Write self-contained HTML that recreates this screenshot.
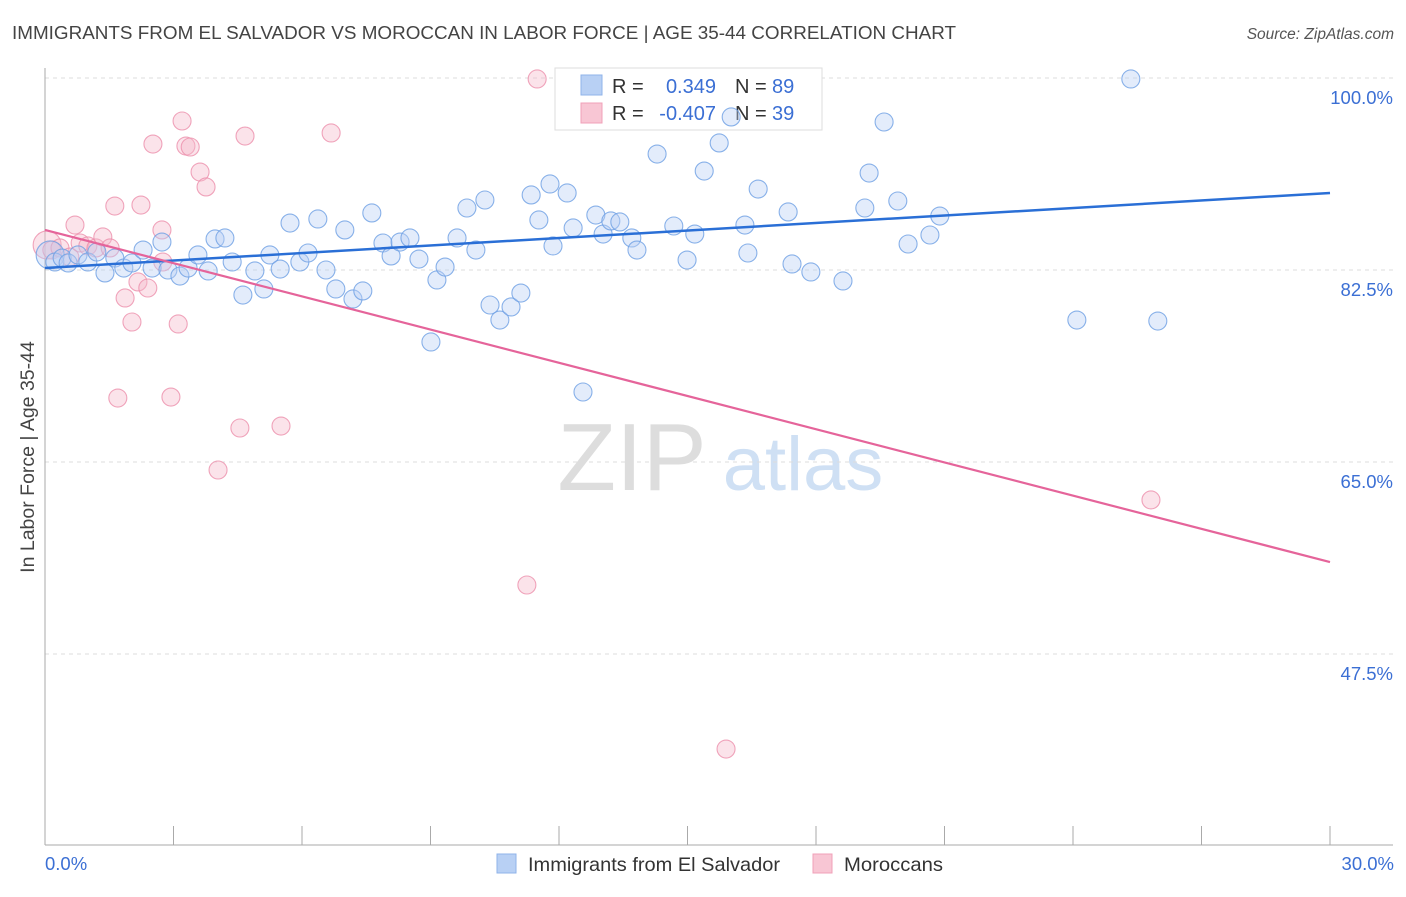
<!DOCTYPE html>
<html><head><meta charset="utf-8"><style>
body{margin:0;background:#fff;font-family:"Liberation Sans",sans-serif;}
svg text{font-family:"Liberation Sans",sans-serif;}
</style></head><body>
<svg id="chart" width="1406" height="892" viewBox="0 0 1406 892" xmlns="http://www.w3.org/2000/svg">
<text x="12" y="39" font-size="18.6" fill="#444" textLength="944" lengthAdjust="spacingAndGlyphs">IMMIGRANTS FROM EL SALVADOR VS MOROCCAN IN LABOR FORCE | AGE 35-44 CORRELATION CHART</text>
<text x="1394" y="39" font-size="15.5" fill="#555" text-anchor="end" font-style="italic">Source: ZipAtlas.com</text>
<g>
<text x="632" y="490" font-size="96" fill="#ddd" text-anchor="middle" font-family="Liberation Serif,serif">ZIP</text>
<text x="803" y="490" font-size="76" fill="#cfe0f4" text-anchor="middle">atlas</text>
</g>
<g id="grid"></g>
<g id="axes"></g>
<g>
<rect x="555" y="68" width="267" height="62" fill="#fff" stroke="#ddd"/>
<rect x="581" y="75" width="21" height="20" fill="#b8d0f4" stroke="#8fb3ea"/>
<rect x="581" y="103" width="21" height="20" fill="#f8c6d4" stroke="#f0a0b8"/>
<text x="612" y="93" font-size="20" fill="#333">R = </text><text x="716" y="93" font-size="20" fill="#3b6fd4" text-anchor="end">0.349</text>
<text x="735" y="93" font-size="20" fill="#333">N = </text><text x="772" y="93" font-size="20" fill="#3b6fd4">89</text>
<text x="612" y="120" font-size="20" fill="#333">R = </text><text x="716" y="120" font-size="20" fill="#3b6fd4" text-anchor="end">-0.407</text>
<text x="735" y="120" font-size="20" fill="#333">N = </text><text x="772" y="120" font-size="20" fill="#3b6fd4">39</text>
</g>
<g id="marks"></g>
<text transform="translate(34,457) rotate(-90)" font-size="19.5" fill="#444" text-anchor="middle">In Labor Force | Age 35-44</text>
<text x="45" y="870" font-size="18.5" fill="#3b6fd4">0.0%</text>
<text x="1394" y="870" font-size="18.5" fill="#3b6fd4" text-anchor="end">30.0%</text>
<g>
<rect x="497" y="854" width="19" height="19" fill="#b8d0f4" stroke="#8fb3ea"/>
<text x="528" y="871" font-size="19.5" fill="#333" textLength="252" lengthAdjust="spacingAndGlyphs">Immigrants from El Salvador</text>
<rect x="813" y="854" width="19" height="19" fill="#f8c6d4" stroke="#f0a0b8"/>
<text x="844" y="871" font-size="19.5" fill="#333" textLength="99" lengthAdjust="spacingAndGlyphs">Moroccans</text>
</g>
</svg>
<script>
const yTicks=[100,82.5,65,47.5];
const yTickLabels=["100.0%","82.5%","65.0%","47.5%"];
const blueX=[0.12,0.23,0.40,0.54,0.77,1.00,1.21,1.40,1.63,1.84,2.03,2.29,2.50,2.73,2.87,3.15,3.34,3.57,3.81,3.97,4.20,4.37,4.62,4.90,5.11,5.25,5.49,5.72,5.95,6.14,6.37,6.56,6.79,7.00,7.19,7.42,7.63,7.89,8.08,8.29,8.52,8.73,9.01,9.15,9.34,9.62,9.85,10.06,10.27,10.39,10.62,10.88,11.11,11.35,11.53,11.79,11.86,12.19,12.33,12.56,12.86,13.03,13.21,13.42,13.70,13.82,14.29,14.68,14.99,15.17,15.39,15.74,16.02,16.34,16.41,16.65,17.35,17.44,17.88,18.63,19.14,19.24,19.59,19.91,20.15,20.66,20.89,24.09,25.35,25.98];
const blueY=[83.87,83.23,83.59,83.14,83.87,83.23,84.14,82.23,83.59,82.68,83.14,84.32,82.68,85.05,82.50,81.95,82.68,83.87,82.41,85.33,85.42,83.23,80.22,82.41,80.77,83.87,82.59,86.78,83.23,84.05,87.15,82.50,80.77,86.15,79.86,80.59,87.70,84.96,83.78,85.05,85.42,83.50,75.94,81.59,82.77,85.42,88.15,84.32,88.88,79.31,77.94,79.13,80.40,89.34,87.06,90.34,84.69,89.52,86.33,71.38,87.51,85.78,86.97,86.88,85.42,84.32,93.07,86.51,83.41,85.78,91.52,94.08,96.45,86.60,84.05,89.88,87.79,83.05,82.32,81.50,88.15,91.34,95.99,88.79,84.87,85.69,87.42,77.94,99.91,77.85];
const pinkX=[0.05,0.16,0.35,0.58,0.70,0.82,1.00,1.19,1.35,1.52,1.63,1.70,1.87,2.03,2.17,2.24,2.40,2.52,2.73,2.75,2.94,3.11,3.20,3.29,3.39,3.62,3.76,4.55,4.67,4.04,5.51,6.68,11.25,11.49,15.90,25.82];
const pinkY=[84.78,84.32,84.51,83.68,86.60,84.96,84.69,84.51,85.51,84.51,88.33,70.83,79.95,77.76,81.41,88.42,80.86,93.98,86.15,83.23,70.92,77.58,96.08,93.80,93.71,91.43,90.07,68.10,94.71,64.27,68.28,94.99,53.79,99.91,38.84,61.54];
const blueTrend=[82.68,89.52];
const pinkTrend=[86.15,55.88];
const X=v=>45+v/30*1285;
const Y=v=>78+(100-v)/17.5*192;
const NS="http://www.w3.org/2000/svg";
function mk(tag,attrs,parent){const e=document.createElementNS(NS,tag);for(const k in attrs)e.setAttribute(k,attrs[k]);parent.appendChild(e);return e;}
const grid=document.getElementById('grid'),axes=document.getElementById('axes'),marks=document.getElementById('marks');
yTicks.forEach((t,i)=>{
 const l=mk('line',{x1:45,x2:1393,y1:Y(t),y2:Y(t),stroke:'#ddd','stroke-dasharray':'4,4'},grid);
 
 
 const tx=mk('text',{x:1393,y:Y(t)+26,'font-size':18.5,fill:'#3b6fd4','text-anchor':'end'},grid);
 tx.textContent=yTickLabels[i];
 
 
});
const ax=mk('line',{x1:45,x2:45,y1:68,y2:845,stroke:'#aaa'},axes);


const bx=mk('line',{x1:45,x2:1393,y1:845,y2:845,stroke:'#aaa'},axes);


for(let v=3;v<=30;v+=3){
 const t=mk('line',{x1:X(v),x2:X(v),y1:826,y2:845,stroke:'#aaa'},axes);
 
 
}
function pts(xs,ys,fill,stroke,name){
 xs.forEach((x,i)=>{
  const c=mk('circle',{cx:X(x),cy:Y(ys[i]),r:i==0?14:9,fill:fill,'fill-opacity':0.4,stroke:stroke,'stroke-width':1.1,'stroke-opacity':0.8},marks);
  
  
 });
}
pts(pinkX,pinkY,'#f6b8ca','#ec8fab','moroccan-point');
pts(blueX,blueY,'#b8d0f4','#6d9fe4','el-salvador-point');
const bl=mk('line',{x1:X(0),y1:Y(blueTrend[0]),x2:X(30),y2:Y(blueTrend[1]),stroke:'#2a6fd6','stroke-width':2.5},marks);


const pl=mk('line',{x1:X(0),y1:Y(pinkTrend[0]),x2:X(30),y2:Y(pinkTrend[1]),stroke:'#e5649a','stroke-width':2.2},marks);


</script>
</body></html>
